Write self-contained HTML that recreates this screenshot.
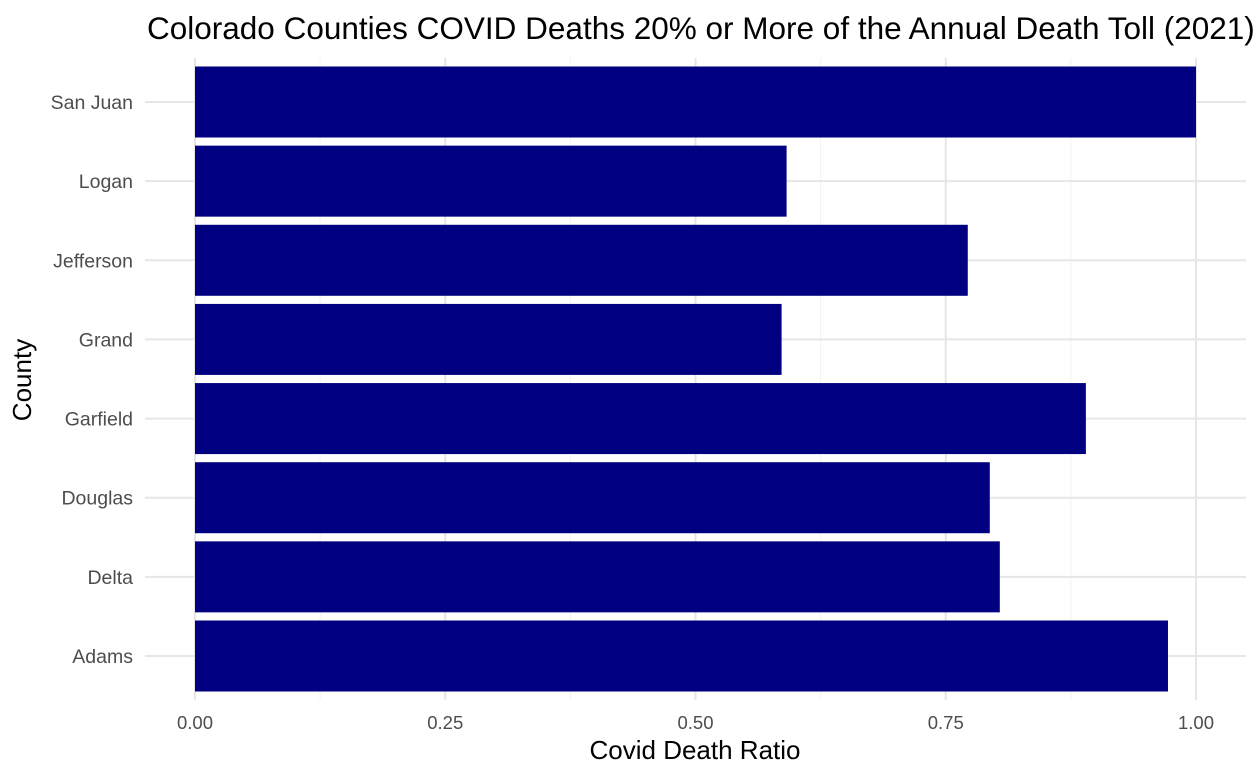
<!DOCTYPE html>
<html><head><meta charset="utf-8"><style>
body{margin:0;background:#fff;}
svg{display:block;font-family:"Liberation Sans",Arial,sans-serif;}
</style></head><body>
<svg id="chart" width="1259" height="778"></svg>
<script>
const categories = ["Adams","Delta","Douglas","Garfield","Grand","Jefferson","Logan","San Juan"];
const values = [0.972,0.804,0.794,0.890,0.586,0.772,0.591,1.0];
const xTicks = [0,0.25,0.5,0.75,1.0];
const xTickLabels = ["0.00","0.25","0.50","0.75","1.00"];

const NS="http://www.w3.org/2000/svg";
const svg=document.getElementById('chart');
const x0=195, x1=1196;
const xs=v=>x0+(x1-x0)*v;
const yTop=102, yBot=656;
const step=(yBot-yTop)/(categories.length-1);
const ys=i=>yBot-i*step;
const barH=71;
const pl=145, pr=1246, pt=58, pb=700;
function mk(t,a,txt){const e=document.createElementNS(NS,t);for(const k in a)e.setAttribute(k,a[k]);if(txt!=null)e.textContent=txt;svg.appendChild(e);return e;}

for(let i=0;i<xTicks.length-1;i++){
  const m=(xTicks[i]+xTicks[i+1])/2;
  const g=mk('line',{x1:xs(m),x2:xs(m),y1:pt,y2:pb,stroke:'#f2f2f2','stroke-width':1});
  
  
}
xTicks.forEach((t,i)=>{
  const g=mk('line',{x1:xs(t),x2:xs(t),y1:pt,y2:pb,stroke:'#e6e6e6','stroke-width':2});
  
  
  const l=mk('text',{x:xs(t),y:729,'text-anchor':'middle','font-size':18.5,fill:'#4d4d4d'},xTickLabels[i]);
  
  
});
categories.forEach((c,i)=>{
  const g=mk('line',{x1:pl,x2:pr,y1:ys(i),y2:ys(i),stroke:'#e6e6e6','stroke-width':2});
  
  
});
categories.forEach((c,i)=>{
  const b=mk('rect',{x:xs(0),y:ys(i)-barH/2,width:xs(values[i])-xs(0),height:barH,fill:'#000080'});
  
  
  const l=mk('text',{x:133,y:ys(i)+7,'text-anchor':'end','font-size':19.5,fill:'#4d4d4d'},c);
  
  
});
const t=mk('text',{x:147,y:39,'font-size':31.5,fill:'#000'},"Colorado Counties COVID Deaths 20% or More of the Annual Death Toll (2021)");


const xt=mk('text',{x:695,y:759,'text-anchor':'middle','font-size':26,fill:'#000'},"Covid Death Ratio");


const yt=mk('text',{x:0,y:0,'text-anchor':'middle','font-size':26,fill:'#000',transform:'translate(31,380) rotate(-90)'},"County");


</script>
</body></html>
